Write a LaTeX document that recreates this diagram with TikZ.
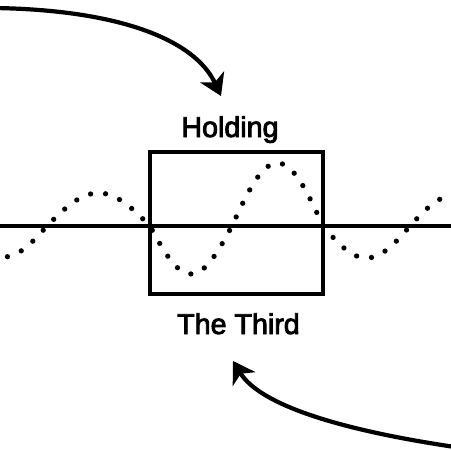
\documentclass[tikz,border=0pt]{standalone}
\usepackage{fontspec}
\setmainfont{Liberation Sans}
\newfontfamily\lblfont{Liberation Sans}[FakeBold=3]
\usetikzlibrary{arrows.meta}

\begin{document}
\begin{tikzpicture}[x=0.02cm,y=-0.02cm,
  thickline/.style={line width=2pt},
  dotline/.style={line width=3pt,line cap=round,dash pattern=on 0pt off 8.6pt},
  bigarrow/.style={line width=2.4pt,-{Stealth[length=12pt,width=15pt,inset=3.5pt]}},
  lbl/.style={anchor=base,inner sep=0,font=\lblfont\fontsize{16.3}{19}\selectfont}]
\useasboundingbox (0,0) rectangle (450,450);
% wave, larger inside the box
\draw[dotline,samples=40]
  plot[domain=-20:47] (\x,{226+31*sin(180/87*(\x+40))})
  -- plot[domain=47:150] (\x,{226-33*sin(180/103*(\x-47))})
  -- plot[domain=150:232] (\x,{226+48*sin(180/82*(\x-150))})
  -- plot[domain=232:323] (\x,{226-63*sin(180/91*(\x-232))})
  -- plot[domain=323:410] (\x,{226+32*sin(180/87*(\x-323))})
  -- plot[domain=410:470] (\x,{226-31*sin(180/90*(\x-410))});
\coordinate (axL) at (-5,226);
\coordinate (axR) at (455,226);
\draw[thickline] (axL) -- (axR);
\node (box) [draw,thickline,inner sep=0,minimum width=3.46cm,minimum height=2.84cm] at (236.5,223) {};
\node[lbl] (hold) at (230,137) {Holding};
\node[lbl] (third) at (238.5,334) {The Third};
% arrows
\coordinate (topstart) at (-5,8);
\coordinate (toptip) at (221,96);
\draw[bigarrow] (topstart) .. controls (120,10) and (195,40) .. (toptip);
\coordinate (botstart) at (455,447);
\coordinate (bottip) at (233,361);
\draw[bigarrow] (botstart) .. controls (340,430) and (260,405) .. (bottip);
\end{tikzpicture}
\end{document}
